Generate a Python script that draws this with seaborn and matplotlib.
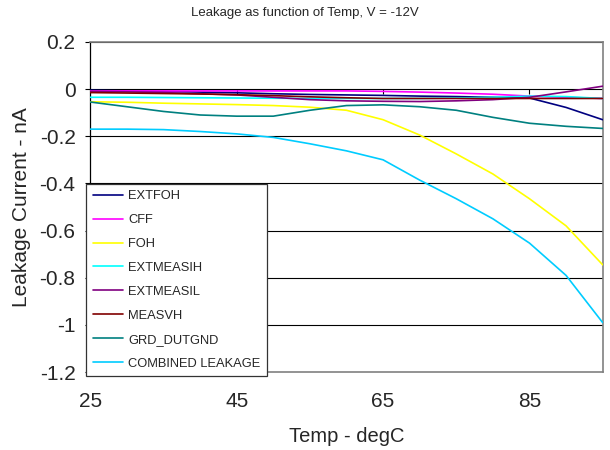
import pandas as pd
import matplotlib.pyplot as plt
import seaborn as sns

# Leakage current vs temperature, V = -12V
temps = [25, 30, 35, 40, 45, 50, 55, 60, 65, 70, 75, 80, 85, 90, 95]

extfoh = [-0.005, -0.008, -0.010, -0.013, -0.016, -0.020, -0.023, -0.025, -0.027, -0.030, -0.032, -0.035, -0.038, -0.078, -0.130]
cff = [-0.008, -0.008, -0.008, -0.008, -0.008, -0.008, -0.008, -0.008, -0.010, -0.013, -0.017, -0.022, -0.030, -0.035, -0.040]
foh = [-0.054, -0.056, -0.060, -0.063, -0.066, -0.070, -0.077, -0.090, -0.130, -0.195, -0.275, -0.360, -0.465, -0.580, -0.745]
extmeasih = [-0.035, -0.035, -0.036, -0.037, -0.038, -0.039, -0.040, -0.040, -0.040, -0.040, -0.038, -0.035, -0.030, -0.032, -0.040]
extmeasil = [-0.010, -0.012, -0.015, -0.020, -0.025, -0.035, -0.045, -0.050, -0.052, -0.053, -0.050, -0.045, -0.035, -0.012, 0.012]
measvh = [-0.015, -0.017, -0.019, -0.021, -0.024, -0.028, -0.033, -0.037, -0.040, -0.040, -0.040, -0.040, -0.040, -0.040, -0.040]
grd_dutgnd = [-0.055, -0.075, -0.095, -0.110, -0.115, -0.115, -0.090, -0.070, -0.067, -0.075, -0.090, -0.120, -0.145, -0.158, -0.167]
combined = [-0.170, -0.170, -0.172, -0.180, -0.190, -0.205, -0.232, -0.262, -0.300, -0.386, -0.465, -0.550, -0.653, -0.790, -0.990]

series_names = ["EXTFOH", "CFF", "FOH", "EXTMEASIH", "EXTMEASIL",
                "MEASVH", "GRD_DUTGND", "COMBINED LEAKAGE"]
series_vals = [extfoh, cff, foh, extmeasih, extmeasil, measvh, grd_dutgnd, combined]
colors = ["#000080", "#FF00FF", "#FFFF00", "#00FFFF", "#800080",
          "#800000", "#008080", "#00CCFF"]

rows = []
for name, vals in zip(series_names, series_vals):
    for t, v in zip(temps, vals):
        rows.append({"Temp": t, "Leakage": v, "Series": name})
df = pd.DataFrame(rows)

sns.set_style("white")
plt.rcParams['font.family'] = ['Liberation Sans', 'DejaVu Sans']

fig = plt.figure(figsize=(6.1, 4.5), dpi=100)
ax = fig.add_axes([0.148, 0.173, 0.840, 0.734])

sns.lineplot(data=df, x="Temp", y="Leakage", hue="Series",
             hue_order=series_names, palette=dict(zip(series_names, colors)),
             linewidth=1.2, ax=ax, zorder=3)

ax.set_xlim(25, 95)
ax.set_ylim(-1.2, 0.2)
ax.set_yticks([0.2, 0, -0.2, -0.4, -0.6, -0.8, -1, -1.2])
ax.set_yticklabels(["0.2", "0", "-0.2", "-0.4", "-0.6", "-0.8", "-1", "-1.2"])
ax.set_xticks([25, 45, 65, 85])
ax.tick_params(axis="x", length=0, labelsize=15, pad=14)
ax.tick_params(axis="y", direction="out", length=3.6, width=0.8,
               color="black", labelsize=15, pad=7, left=True)

for yv in [0.2, 0, -0.2, -0.4, -0.6, -0.8, -1.0]:
    ax.axhline(yv, color="black", linewidth=0.8, zorder=1)

for side in ["top", "right", "bottom"]:
    ax.spines[side].set_color("#808080")
    ax.spines[side].set_linewidth(1.2)
ax.spines["left"].set_color("black")
ax.spines["left"].set_linewidth(0.9)

# category-style axis crossing at zero with small tick marks pointing down
zero_frac = (0 - (-1.2)) / 1.4
sec = ax.secondary_xaxis(zero_frac)
sec.set_xticks([45, 65, 85])
sec.tick_params(direction="in", length=3.6, width=0.8, color="black",
                labelbottom=False, labeltop=False)
sec.spines["bottom"].set_visible(False)
sec.spines["top"].set_visible(False)

ax.set_xlabel("Temp - degC", fontsize=14.5, labelpad=12)
ax.set_ylabel("Leakage Current - nA", fontsize=15, labelpad=6)
fig.suptitle("Leakage as function of Temp, V = -12V", fontsize=9.5, x=0.5, y=0.985)

handles, labels = ax.get_legend_handles_labels()
leg = ax.legend(handles, labels, loc="lower left", bbox_to_anchor=(-0.008, -0.012),
                borderaxespad=0, fontsize=9.3, labelspacing=0.92, handlelength=2.35,
                handletextpad=0.4, borderpad=0.5, fancybox=False, framealpha=1,
                edgecolor="#333333")
leg.get_frame().set_linewidth(0.9)
leg.set_zorder(5)

plt.savefig("out.png", dpi=100)
